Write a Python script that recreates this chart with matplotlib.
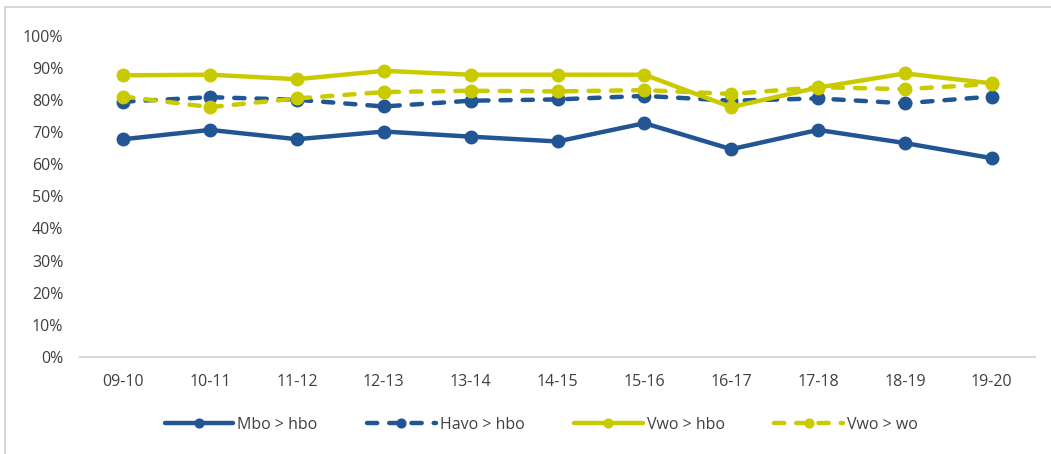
import matplotlib.pyplot as plt
from matplotlib.lines import Line2D
from matplotlib.ticker import PercentFormatter

# Data
jaren = ["09-10", "10-11", "11-12", "12-13", "13-14", "14-15",
         "15-16", "16-17", "17-18", "18-19", "19-20"]
mbo_hbo = [67.8, 70.7, 67.8, 70.2, 68.6, 67.1, 72.8, 64.7, 70.7, 66.6, 61.9]
havo_hbo = [79.5, 80.9, 80.1, 78.0, 79.8, 80.2, 81.3, 79.8, 80.5, 79.0, 81.1]
vwo_hbo = [87.7, 87.9, 86.5, 89.1, 87.9, 87.9, 87.9, 77.8, 83.9, 88.3, 85.2]
vwo_wo = [81.1, 77.8, 80.5, 82.5, 82.9, 82.7, 83.1, 81.9, 84.0, 83.4, 85.0]

blauw = "#215593"
geel = "#CACA00"
tekst = "#404040"

plt.rcParams['font.family'] = ['Open Sans', 'DejaVu Sans']

fig = plt.figure(figsize=(10.51, 4.54), dpi=100)
ax = fig.add_axes([0.076, 0.214, 0.909, 0.707])

x = range(len(jaren))
stijl = dict(lw=3.2, marker='o', markersize=9, solid_capstyle='round',
             dash_capstyle='round')
ax.plot(x, mbo_hbo, color=blauw, label="Mbo > hbo", **stijl)
ax.plot(x, havo_hbo, color=blauw, ls=(0, (2.3, 2.7)), label="Havo > hbo", **stijl)
ax.plot(x, vwo_hbo, color=geel, label="Vwo > hbo", **stijl)
ax.plot(x, vwo_wo, color=geel, ls=(0, (2.3, 2.7)), label="Vwo > wo", **stijl)

ax.set_xlim(-0.5, len(jaren) - 0.5)
ax.set_ylim(0, 100)
ax.set_yticks(range(0, 101, 10))
ax.yaxis.set_major_formatter(PercentFormatter(decimals=0))
ax.set_xticks(list(x))
ax.set_xticklabels(jaren)

for s in ['top', 'right', 'left']:
    ax.spines[s].set_visible(False)
ax.spines['bottom'].set_color("#D9D9D9")
ax.spines['bottom'].set_linewidth(1.5)
ax.tick_params(length=0, labelsize=11.5, colors=tekst)
ax.tick_params(axis='x', pad=12)
ax.tick_params(axis='y', pad=12)

fig.legend(loc='center', bbox_to_anchor=(0.515, 0.064), ncol=4, frameon=False,
           fontsize=11.5, handlelength=4.3, columnspacing=3.1,
           handletextpad=0.25, labelcolor=tekst, markerscale=0.7)

# kaderlijnen boven en links
fig.add_artist(Line2D([0.005, 1.0], [0.985, 0.985], transform=fig.transFigure,
                      color="#D0D0D0", lw=1.2))
fig.add_artist(Line2D([0.005, 0.005], [0.0, 0.985], transform=fig.transFigure,
                      color="#D0D0D0", lw=1.2))

fig.savefig("out.png", dpi=100)
